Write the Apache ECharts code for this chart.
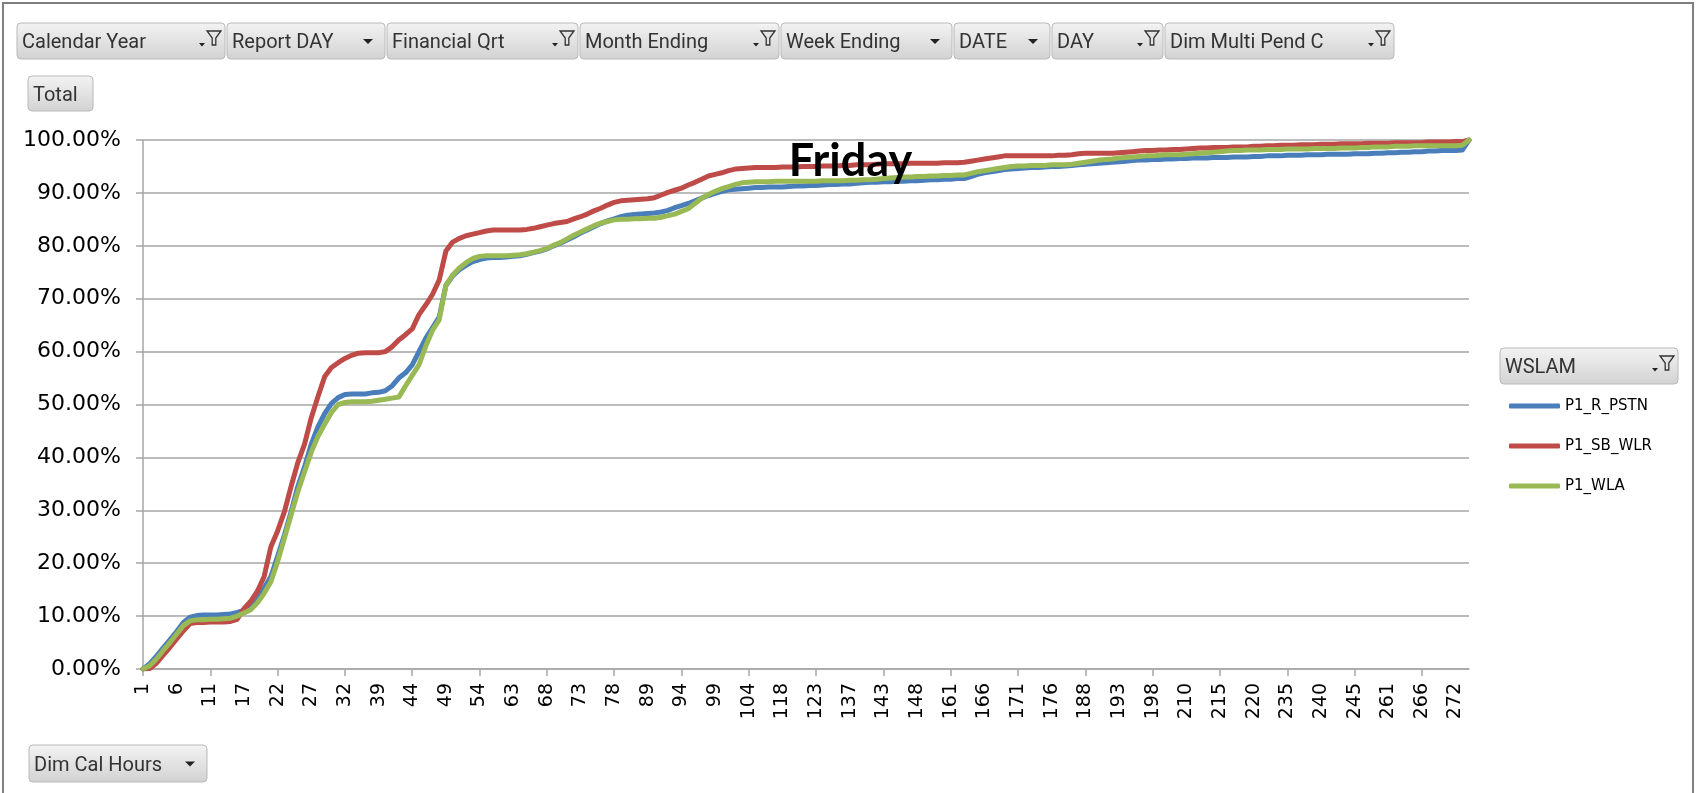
<!DOCTYPE html>
<html>
<head>
<meta charset="utf-8">
<title>Friday</title>
<script src="https://cdn.jsdelivr.net/npm/echarts@6/dist/echarts.min.js"></script>
<style>
  html, body { margin: 0; padding: 0; background: #fff; }
  #main { width: 1701px; height: 793px; }
</style>
</head>
<body>
<div id="main"></div>
<script>
// Dim Cal Hours (category axis)
var hours = [
  1, 2, 3, 4, 5, 6, 7, 8, 9, 10,
  11, 12, 13, 14, 15, 17, 18, 19, 20, 21,
  22, 23, 24, 25, 26, 27, 28, 29, 30, 31,
  32, 33, 34, 36, 37, 39, 40, 41, 42, 43,
  44, 45, 46, 47, 48, 49, 50, 51, 52, 53,
  54, 55, 57, 59, 61, 63, 64, 65, 66, 67,
  68, 69, 70, 71, 72, 73, 74, 75, 76, 77,
  78, 80, 82, 85, 87, 89, 90, 91, 92, 93,
  94, 95, 96, 97, 98, 99, 100, 101, 102, 103,
  104, 106, 109, 112, 115, 118, 119, 120, 121, 122,
  123, 125, 128, 131, 134, 137, 138, 139, 140, 142,
  143, 144, 145, 146, 147, 148, 150, 153, 156, 158,
  161, 162, 163, 164, 165, 166, 167, 168, 169, 170,
  171, 172, 173, 174, 175, 176, 178, 181, 183, 185,
  188, 189, 190, 191, 192, 193, 194, 195, 196, 197,
  198, 200, 203, 205, 207, 210, 211, 212, 213, 214,
  215, 216, 217, 218, 219, 220, 223, 226, 229, 232,
  235, 236, 237, 238, 239, 240, 241, 242, 243, 244,
  245, 248, 252, 255, 258, 261, 262, 263, 264, 265,
  266, 267, 268, 270, 271, 272, 273, 275
];

// cumulative % per series
var pstn = [
  0, 1.0, 2.4, 4.0, 5.5, 7.1, 8.8, 9.8, 10.1, 10.2,
  10.2, 10.2, 10.3, 10.4, 10.7, 11.1, 11.8, 13.1, 15.3, 17.5,
  21.3, 25.3, 29.7, 34.5, 38.2, 42.5, 45.8, 48.3, 50.2, 51.3,
  51.9, 52.0, 52.0, 52.0, 52.2, 52.3, 52.6, 53.5, 55.0, 56.0,
  57.5, 60.0, 62.5, 64.5, 66.5, 72.5, 74.3, 75.5, 76.3, 77.0,
  77.4, 77.7, 77.8, 77.8, 77.9, 78.0, 78.1, 78.4, 78.7, 79.0,
  79.4, 80.0, 80.5, 81.1, 81.7, 82.4, 83.0, 83.6, 84.2, 84.7,
  85.1, 85.5, 85.8, 85.9, 86.0, 86.1, 86.2, 86.4, 86.7, 87.2,
  87.6, 88.0, 88.5, 89.0, 89.5, 89.9, 90.3, 90.6, 90.7, 90.8,
  90.9, 91.0, 91.0, 91.1, 91.1, 91.1, 91.2, 91.3, 91.3, 91.4,
  91.4, 91.5, 91.6, 91.6, 91.7, 91.7, 91.8, 91.9, 92.0, 92.0,
  92.1, 92.1, 92.2, 92.2, 92.3, 92.3, 92.4, 92.5, 92.5, 92.6,
  92.6, 92.7, 92.7, 93.1, 93.5, 93.8, 94.0, 94.2, 94.4, 94.5,
  94.6, 94.7, 94.8, 94.8, 94.9, 95.0, 95.0, 95.1, 95.2, 95.3,
  95.4, 95.5, 95.6, 95.7, 95.8, 95.9, 96.0, 96.1, 96.2, 96.2,
  96.3, 96.3, 96.4, 96.4, 96.5, 96.5, 96.6, 96.6, 96.6, 96.7,
  96.7, 96.7, 96.8, 96.8, 96.8, 96.9, 96.9, 97.0, 97.0, 97.0,
  97.1, 97.1, 97.1, 97.2, 97.2, 97.2, 97.3, 97.3, 97.3, 97.3,
  97.4, 97.4, 97.4, 97.5, 97.5, 97.6, 97.6, 97.7, 97.7, 97.8,
  97.8, 97.9, 97.9, 98.0, 98.0, 98.0, 98.1, 100
];
var sbwlr = [
  0, 0.1, 1.1, 2.6, 4.1, 5.7, 7.2, 8.6, 8.8, 8.8,
  8.9, 8.9, 8.9, 9.0, 9.4, 11.4, 12.8, 14.7, 17.5, 23.1,
  26.1, 29.7, 34.5, 39.0, 42.5, 47.5, 51.5, 55.3, 57.0, 57.9,
  58.7, 59.3, 59.7, 59.8, 59.8, 59.8, 60.0, 60.9, 62.2, 63.2,
  64.3, 67.0, 68.8, 70.8, 73.5, 79.0, 80.7, 81.4, 81.9, 82.2,
  82.5, 82.8, 83.0, 83.0, 83.0, 83.0, 83.0, 83.1, 83.3, 83.6,
  83.9, 84.2, 84.4, 84.6, 85.1, 85.5, 86.0, 86.6, 87.1, 87.7,
  88.2, 88.5, 88.6, 88.7, 88.8, 88.9, 89.1, 89.6, 90.1, 90.5,
  90.9, 91.5, 92.0, 92.6, 93.2, 93.5, 93.8, 94.2, 94.5, 94.6,
  94.7, 94.8, 94.8, 94.8, 94.8, 94.9, 94.9, 94.9, 95.0, 95.0,
  95.0, 95.1, 95.1, 95.1, 95.2, 95.2, 95.3, 95.3, 95.3, 95.4,
  95.5, 95.5, 95.5, 95.5, 95.6, 95.6, 95.6, 95.6, 95.6, 95.7,
  95.7, 95.7, 95.8, 96.0, 96.2, 96.4, 96.6, 96.8, 97.0, 97.0,
  97.0, 97.0, 97.0, 97.0, 97.0, 97.0, 97.1, 97.1, 97.2, 97.4,
  97.5, 97.5, 97.5, 97.5, 97.5, 97.6, 97.7, 97.8, 97.9, 98.0,
  98.0, 98.1, 98.1, 98.2, 98.2, 98.3, 98.4, 98.5, 98.5, 98.6,
  98.6, 98.6, 98.7, 98.7, 98.7, 98.8, 98.8, 98.9, 98.9, 99.0,
  99.0, 99.0, 99.1, 99.1, 99.1, 99.2, 99.2, 99.2, 99.3, 99.3,
  99.3, 99.3, 99.4, 99.4, 99.4, 99.4, 99.5, 99.5, 99.5, 99.5,
  99.5, 99.6, 99.6, 99.6, 99.6, 99.7, 99.7, 100
];
var wla = [
  0, 0.6, 1.9, 3.5, 5.0, 6.6, 8.2, 9.1, 9.3, 9.3,
  9.4, 9.4, 9.5, 9.6, 10.0, 10.6, 11.2, 12.5, 14.3, 16.5,
  20.3, 24.7, 29.1, 33.5, 37.3, 41.0, 44.0, 46.3, 48.5, 50.0,
  50.4, 50.5, 50.5, 50.5, 50.6, 50.8, 51.0, 51.2, 51.4, 53.5,
  55.5, 57.5, 61.0, 64.0, 66.0, 72.5, 74.5, 75.8, 76.8, 77.6,
  78.0, 78.1, 78.1, 78.1, 78.1, 78.2, 78.3, 78.5, 78.8, 79.1,
  79.5, 80.1, 80.6, 81.3, 82.0, 82.6, 83.2, 83.8, 84.3, 84.6,
  84.9, 85.0, 85.0, 85.1, 85.1, 85.2, 85.2, 85.4, 85.7, 86.0,
  86.5, 87.0, 88.0, 89.0, 89.7, 90.3, 90.8, 91.2, 91.6, 91.9,
  92.0, 92.1, 92.1, 92.1, 92.2, 92.2, 92.2, 92.2, 92.2, 92.2,
  92.2, 92.3, 92.3, 92.3, 92.3, 92.4, 92.4, 92.5, 92.5, 92.6,
  92.7, 92.8, 92.9, 93.0, 93.0, 93.1, 93.1, 93.2, 93.2, 93.3,
  93.3, 93.4, 93.4, 93.7, 94.0, 94.2, 94.4, 94.6, 94.8, 95.0,
  95.1, 95.1, 95.2, 95.2, 95.2, 95.3, 95.3, 95.3, 95.4, 95.6,
  95.8, 96.0, 96.2, 96.3, 96.4, 96.6, 96.7, 96.8, 96.9, 97.0,
  97.0, 97.1, 97.2, 97.2, 97.2, 97.3, 97.4, 97.5, 97.6, 97.7,
  97.8, 97.9, 98.0, 98.0, 98.1, 98.1, 98.1, 98.2, 98.2, 98.2,
  98.3, 98.3, 98.3, 98.3, 98.4, 98.4, 98.4, 98.4, 98.5, 98.5,
  98.5, 98.6, 98.6, 98.7, 98.7, 98.7, 98.8, 98.8, 98.8, 98.9,
  98.9, 98.9, 98.9, 98.9, 98.9, 98.9, 99.0, 100
];

var seriesNames = ['P1_R_PSTN', 'P1_SB_WLR', 'P1_WLA'];
var seriesColors = ['#4a7ebb', '#be4b48', '#98b954'];

// pivot field buttons
var buttons = [
  { text: 'Calendar Year', x: 17, y: 23, w: 208, h: 36, icon: 'filter' },
  { text: 'Report DAY', x: 227, y: 23, w: 158, h: 36, icon: 'drop' },
  { text: 'Financial Qrt', x: 387, y: 23, w: 191, h: 36, icon: 'filter' },
  { text: 'Month Ending', x: 580, y: 23, w: 199, h: 36, icon: 'filter' },
  { text: 'Week Ending', x: 781, y: 23, w: 171, h: 36, icon: 'drop' },
  { text: 'DATE', x: 954, y: 23, w: 96, h: 36, icon: 'drop' },
  { text: 'DAY', x: 1052, y: 23, w: 111, h: 36, icon: 'filter' },
  { text: 'Dim Multi Pend C', x: 1165, y: 23, w: 229, h: 36, icon: 'filter' },
  { text: 'Total', x: 28, y: 76, w: 65, h: 35, icon: null },
  { text: 'WSLAM', x: 1500, y: 348, w: 178, h: 36, icon: 'filter' },
  { text: 'Dim Cal Hours', x: 29, y: 745, w: 178, h: 37, icon: 'drop' }
];

function makeButton(b) {
  var kids = [
    {
      type: 'rect',
      shape: { x: 0, y: 0, width: b.w, height: b.h, r: 4 },
      style: {
        fill: new echarts.graphic.LinearGradient(0, 0, 0, 1, [
          { offset: 0, color: '#f3f3f3' },
          { offset: 1, color: '#d2d2d2' }
        ]),
        stroke: '#b9b9b9',
        lineWidth: 1
      }
    },
    {
      type: 'text',
      x: 5,
      y: b.h / 2 + 2,
      style: {
        text: b.text,
        font: '20px Roboto',
        fill: '#333',
        verticalAlign: 'middle'
      }
    }
  ];
  var cy = b.h / 2;
  if (b.icon === 'drop') {
    var ax = b.w - 17;
    kids.push({
      type: 'polygon',
      shape: { points: [[ax - 5, cy - 2], [ax + 5, cy - 2], [ax, cy + 3]] },
      style: { fill: '#222' }
    });
  } else if (b.icon === 'filter') {
    var fx = b.w - 11, fy = cy - 10;
    kids.push({
      type: 'polygon',
      shape: { points: [[fx - 7, fy], [fx + 7, fy], [fx + 1.8, fy + 7], [fx + 1.8, fy + 14], [fx - 1.8, fy + 14], [fx - 1.8, fy + 7]] },
      style: { fill: '#e4e4e4', stroke: '#333', lineWidth: 1.3 }
    });
    kids.push({
      type: 'polygon',
      shape: { points: [[fx - 15, fy + 12], [fx - 9, fy + 12], [fx - 12, fy + 15.5]] },
      style: { fill: '#222' }
    });
  }
  return { type: 'group', x: b.x, y: b.y, children: kids };
}

var chart = echarts.init(document.getElementById('main'));

var graphics = [
  {
    type: 'rect',
    shape: { x: 3, y: 3, width: 1690, height: 810 },
    style: { fill: 'none', stroke: '#7f7f7f', lineWidth: 2 },
    z: -1
  }
].concat(buttons.map(makeButton));

var option = {
  backgroundColor: '#fff',
  animation: false,
  title: {
    text: 'Friday',
    left: 'center',
    top: 134,
    textStyle: { fontFamily: 'Lato', fontWeight: 'bold', fontSize: 45, color: '#000' }
  },
  grid: { left: 143, right: 232, top: 140, bottom: 124 },
  legend: {
    orient: 'vertical',
    left: 1504,
    top: 391,
    itemWidth: 51,
    itemHeight: 5,
    itemGap: 20,
    icon: 'roundRect',
    textStyle: { fontFamily: 'DejaVu Sans', fontSize: 15, color: '#000', lineHeight: 20 },
    data: seriesNames
  },
  xAxis: {
    type: 'category',
    data: hours,
    boundaryGap: false,
    axisLine: { lineStyle: { color: '#a6a6a6', width: 1.5 } },
    axisTick: { show: true, interval: 9, length: 7, lineStyle: { color: '#a6a6a6', width: 1.5 } },
    axisLabel: {
      interval: 4,
      rotate: 90,
      margin: 14,
      fontFamily: 'DejaVu Sans',
      fontSize: 19,
      color: '#000'
    },
    splitLine: { show: false }
  },
  yAxis: {
    type: 'value',
    min: 0,
    max: 100,
    interval: 10,
    axisLine: { show: true, lineStyle: { color: '#a6a6a6', width: 1.5 } },
    axisTick: { show: true, length: 7, lineStyle: { color: '#a6a6a6', width: 1.5 } },
    axisLabel: {
      margin: 22,
      fontFamily: 'DejaVu Sans',
      fontSize: 22,
      color: '#000',
      formatter: function (v) { return v.toFixed(2) + '%'; }
    },
    splitLine: { lineStyle: { color: '#a6a6a6', width: 1.5 } }
  },
  series: [pstn, sbwlr, wla].map(function (d, i) {
    return {
      name: seriesNames[i],
      type: 'line',
      data: d,
      showSymbol: false,
      color: seriesColors[i],
      lineStyle: { width: 5, cap: 'round', join: 'round' }
    };
  }),
  graphic: graphics
};

chart.setOption(option);
</script>
</body>
</html>
